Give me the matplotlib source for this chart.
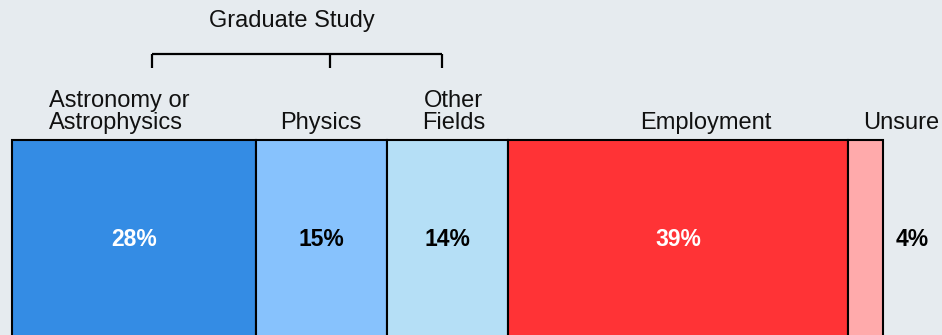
import matplotlib.pyplot as plt

# Share of graduates by what they did next (percent)
categories = ["Astronomy or\nAstrophysics", "Physics", "Other\nFields", "Employment", "Unsure"]
shares = [28, 15, 14, 39, 4]
colors = ["#348ce4", "#87c2fd", "#b5dff6", "#ff3336", "#ffaaab"]
text_colors = ["white", "black", "black", "white", "black"]

# where each category name sits above the bar (x in percent units, alignment)
label_x = [4.2, 35.5, 50.7, 79.6, 97.7]
label_ha = ["left", "center", "center", "center", "left"]
label_ma = ["left", "center", "center", "center", "left"]

# bracket grouping the graduate study options
bracket_ticks = [16.1, 36.5, 49.4]

bg = "#e6ebef"
plt.rcParams["font.family"] = ["Liberation Sans", "DejaVu Sans"]

fig = plt.figure(figsize=(9.42, 3.35), dpi=100)
fig.patch.set_facecolor(bg)
ax = fig.add_axes([0, 0, 1, 1])
ax.set_facecolor(bg)

px = 871 / 100  # pixels per percent
ax.set_xlim(-12 / px, (942 - 12) / px)
ax.set_ylim(335, 0)  # y runs downward in pixel rows
ax.axis("off")

left = 0
for cat, val, col, tc, lx, ha, ma in zip(categories, shares, colors, text_colors,
                                        label_x, label_ha, label_ma):
    ax.barh(240, val, height=200, left=left, color=col, edgecolor="black", linewidth=1.5)
    if val >= 10:
        ax.text(left + val / 2, 240, f"{val}%", ha="center", va="center",
                color=tc, fontsize=16.5, fontweight="bold")
    else:
        ax.annotate(f"{val}%", (left + val, 240), xytext=(9, 0), textcoords="offset points",
                    ha="left", va="center", color=tc, fontsize=16.5, fontweight="bold")
    ax.text(lx, 129, cat, ha=ha, va="baseline", multialignment=ma,
            fontsize=17, color="#111111", linespacing=1.0)
    left += val

# bracket over the graduate study segments
ax.plot([bracket_ticks[0], bracket_ticks[-1]], [54, 54], color="black", lw=1.6,
        solid_capstyle="butt")
for t in bracket_ticks:
    ax.plot([t, t], [54, 68], color="black", lw=1.6, solid_capstyle="butt")
ax.text(sum(bracket_ticks[::2]) / 2 - 0.6, 27, "Graduate Study", ha="center", va="baseline",
        fontsize=17, color="#111111")

fig.savefig("out.png", dpi=100, facecolor=bg)
